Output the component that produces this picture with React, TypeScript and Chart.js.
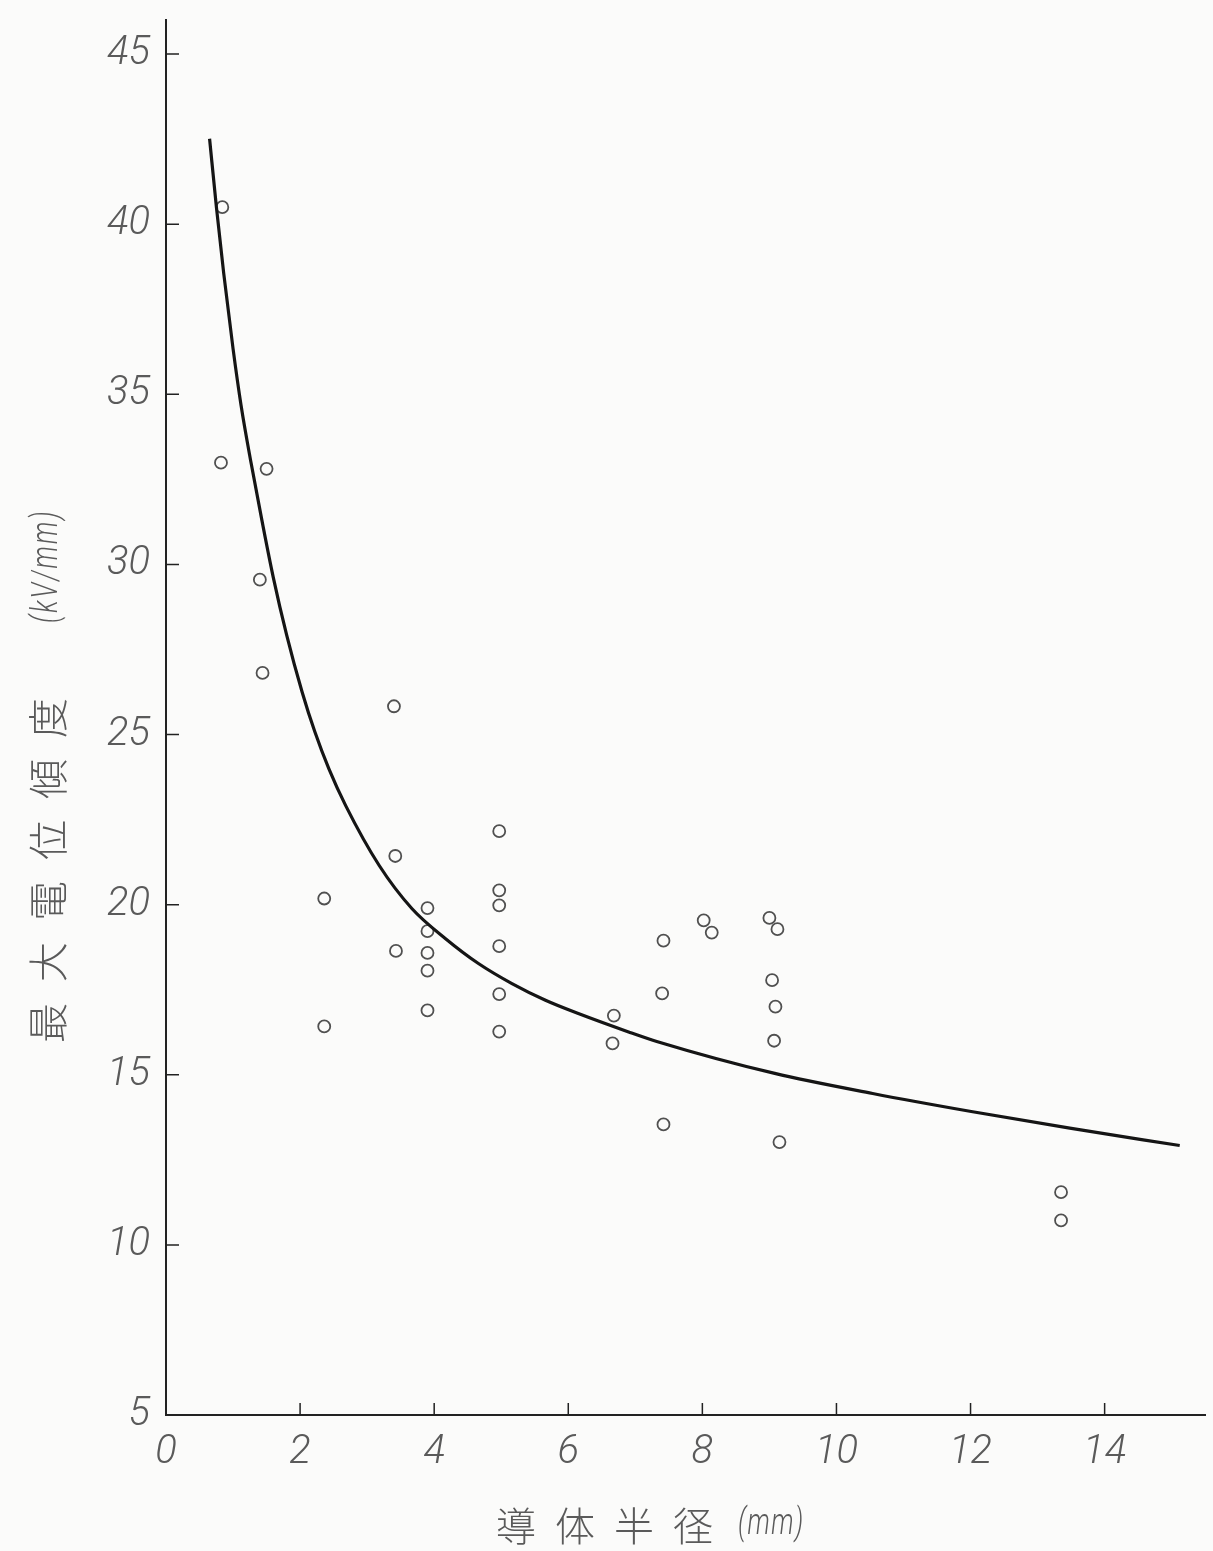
import React, { useEffect, useRef } from "react";
import { Chart, registerables } from "chart.js";

Chart.register(...registerables);

// Measured samples: conductor radius (mm) vs. maximum potential gradient (kV/mm)
const sampleRadius = [
  0.84, 0.82, 1.5, 1.4, 1.44,
  3.4, 3.42, 2.36, 2.36, 3.43,
  3.9, 3.9, 3.9, 3.9, 3.9,
  4.97, 4.97, 4.97, 4.97, 4.97, 4.97,
  6.68, 6.66,
  7.42, 7.4, 7.42,
  8.02, 8.14,
  9.0, 9.12, 9.04, 9.09, 9.07, 9.15,
  13.35, 13.35,
];
const sampleGradient = [
  40.5, 32.99, 32.81, 29.55, 26.81,
  25.83, 21.43, 20.18, 16.42, 18.64,
  19.9, 19.22, 18.58, 18.06, 16.89,
  22.16, 20.42, 19.98, 18.78, 17.37, 16.27,
  16.74, 15.92,
  18.94, 17.39, 13.54,
  19.54, 19.18,
  19.61, 19.28, 17.78, 17.0, 16.0, 13.02,
  11.55, 10.72,
];

// Calculated characteristic curve
const curveRadius = [
  0.65, 0.753, 0.86, 1.0, 1.12, 1.27, 1.43, 1.6, 1.8, 2.03, 2.22,
  2.43, 2.68, 3.18, 3.67, 4.17, 4.66, 5.16, 5.66, 6.15, 6.9, 7.32,
  9.08, 10.54, 12.01, 13.48, 15.12,
];
const curveGradient = [
  42.51, 40.48, 38.57, 36.34, 34.67, 32.97, 31.3, 29.62, 27.92, 26.25, 25.08,
  23.99, 22.91, 21.15, 19.88, 19.0, 18.27, 17.68, 17.19, 16.8, 16.26, 15.98,
  15.04, 14.45, 13.92, 13.43, 12.92,
];

const xTitleMain = "導体半径";
const xTitleUnit = "(mm)";
const yTitleMain = "最大電位傾度";
const yTitleUnit = "(kV/mm)";

const INK = "#222";
const TEXT = "#5a5a5a";
const NUM_FONT = "Roboto, 'Liberation Sans', sans-serif";
const CJK_FONT = "'Noto Sans CJK JP', 'Noto Sans CJK SC', sans-serif";

const backgroundPlugin = {
  id: "paper",
  beforeDraw(chart: any) {
    const { ctx, width, height } = chart;
    ctx.save();
    ctx.fillStyle = "#fbfbfa";
    ctx.fillRect(0, 0, width, height);
    ctx.restore();
  },
};

// Short tick marks pointing into the plot area
const innerTicksPlugin = {
  id: "innerTicks",
  afterDraw(chart: any) {
    const { ctx } = chart;
    const xs = chart.scales.x;
    const ys = chart.scales.y;
    ctx.save();
    ctx.strokeStyle = INK;
    ctx.lineWidth = 1.5;
    ctx.beginPath();
    for (const t of ys.ticks) {
      if (t.value === ys.min) continue;
      const py = ys.getPixelForValue(t.value);
      ctx.moveTo(xs.left, py);
      ctx.lineTo(xs.left + 13, py);
    }
    for (const t of xs.ticks) {
      if (t.value === xs.min) continue;
      const px = xs.getPixelForValue(t.value);
      ctx.moveTo(px, ys.bottom);
      ctx.lineTo(px, ys.bottom - 12);
    }
    ctx.stroke();
    ctx.restore();
  },
};

// Draws text squeezed horizontally, like the narrow lettering of the axes
function narrowText(ctx: CanvasRenderingContext2D, text: string, x: number, y: number, squeeze: number) {
  ctx.save();
  ctx.translate(x, y);
  ctx.scale(squeeze, 1);
  ctx.fillText(text, 0, 0);
  ctx.restore();
}

// Axis titles with wide character spacing
const axisTitlesPlugin = {
  id: "axisTitles",
  afterDraw(chart: any) {
    const { ctx } = chart;
    ctx.save();
    ctx.fillStyle = TEXT;
    ctx.textBaseline = "middle";
    ctx.textAlign = "left";

    // horizontal title
    ctx.font = `300 40px ${CJK_FONT}`;
    (ctx as any).letterSpacing = "19px";
    ctx.fillText(xTitleMain, 496, 1526);
    ctx.font = `italic 300 36px ${NUM_FONT}`;
    (ctx as any).letterSpacing = "2px";
    narrowText(ctx, xTitleUnit, 738, 1525, 0.72);

    // vertical title
    ctx.translate(48, 1043);
    ctx.rotate(-Math.PI / 2);
    ctx.font = `300 40px ${CJK_FONT}`;
    (ctx as any).letterSpacing = "21px";
    ctx.fillText(yTitleMain, 0, 0);
    ctx.font = `italic 300 36px ${NUM_FONT}`;
    (ctx as any).letterSpacing = "3px";
    narrowText(ctx, yTitleUnit, 420, 0, 0.72);
    ctx.restore();
  },
};

export default function App() {
  const canvasRef = useRef<HTMLCanvasElement | null>(null);

  useEffect(() => {
    const canvas = canvasRef.current;
    if (!canvas) return;

    const samples = sampleRadius.map((r, i) => ({ x: r, y: sampleGradient[i] }));
    const curve = curveRadius.map((r, i) => ({ x: r, y: curveGradient[i] }));

    const tickFont = { family: NUM_FONT, size: 40, style: "italic" as const, weight: 300 as any };

    const chart = new Chart(canvas, {
      type: "scatter",
      data: {
        datasets: [
          {
            type: "line",
            data: curve,
            showLine: true,
            borderColor: "#151515",
            borderWidth: 3.2,
            pointRadius: 0,
            cubicInterpolationMode: "monotone",
            fill: false,
          },
          {
            type: "scatter",
            data: samples,
            pointStyle: "circle",
            pointRadius: 6,
            pointBorderWidth: 1.8,
            pointBorderColor: "#505050",
            pointBackgroundColor: "rgba(0,0,0,0)",
          },
        ],
      },
      options: {
        responsive: false,
        animation: false,
        layout: { padding: { top: 20, right: 5, left: 0, bottom: 0 } },
        plugins: {
          legend: { display: false },
          tooltip: { enabled: false },
        },
        scales: {
          x: {
            type: "linear",
            min: 0,
            max: 15.5,
            afterFit: (s: any) => {
              s.height = 136;
              s.paddingLeft = 0;
              s.paddingRight = 0;
            },
            border: { display: true, color: INK, width: 2 },
            grid: { drawOnChartArea: false, drawTicks: false },
            ticks: {
              stepSize: 2,
              includeBounds: false,
              padding: 14,
              color: TEXT,
              font: tickFont,
              maxRotation: 0,
            },
          },
          y: {
            type: "linear",
            min: 5,
            max: 46,
            afterFit: (s: any) => {
              s.width = 166;
              s.paddingTop = 0;
              s.paddingBottom = 0;
            },
            border: { display: true, color: INK, width: 2 },
            grid: { drawOnChartArea: false, drawTicks: false },
            ticks: {
              stepSize: 5,
              includeBounds: false,
              padding: 16,
              color: TEXT,
              font: tickFont,
            },
          },
        },
      },
      plugins: [backgroundPlugin, innerTicksPlugin, axisTitlesPlugin],
    });

    return () => chart.destroy();
  }, []);

  return (
    <div style={{ position: "absolute", left: 0, top: 0, width: 1213, height: 1551 }}>
      <canvas ref={canvasRef} width={1213} height={1551} style={{ display: "block" }} />
    </div>
  );
}
